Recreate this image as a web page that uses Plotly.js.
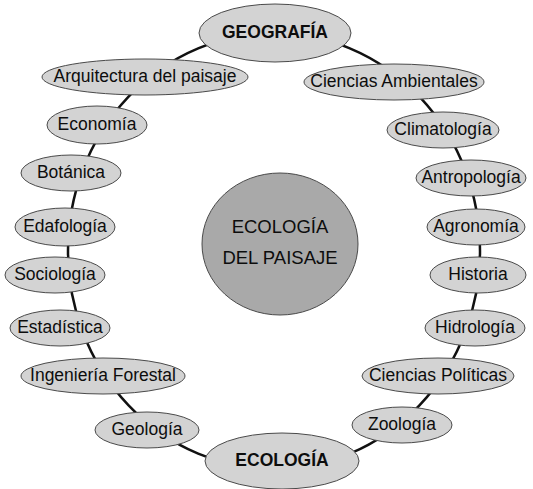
<!DOCTYPE html>
<html>
<head>
<meta charset="utf-8">
<script src="https://cdn.plot.ly/plotly-3.0.1.min.js"></script>
<style>html,body{margin:0;padding:0;background:#fff;}#chart{width:533px;height:489px;}</style>
</head>
<body>
<div id="chart"></div>
<script>
// Node labels (ring of disciplines)
const labels = ["<b>GEOGRAFÍA</b>","Arquitectura del paisaje","Ciencias Ambientales","Economía","Climatología",
  "Botánica","Antropología","Edafología","Agronomía","Sociología","Historia","Estadística","Hidrología",
  "Ingeniería Forestal","Ciencias Políticas","Geología","Zoología","<b>ECOLOGÍA</b>"];
// Node centres (diagram coordinates)
const nodeX = [275,145,394,97,443,71,471,65,476,55,478,60,475,103,438,147,402,282];
const nodeY = [33,77,82,125,130,173,178,227,227,275,275,328,328,376,376,430,425,461];
// Node half-widths / half-heights
const nodeRx = [76,103,90,50,56,50,55,50,49,50,48,50,50,82,76,52,50,77];
const nodeRy = [29,18,18,19,18,18,18,19,18,18,18,18,18,18,18,18,18,28];
// Centre node
const centreLines = ["ECOLOGÍA","DEL PAISAJE"];
const centreX = [280], centreY = [244], centreRx = [78], centreRy = [71];
const centreLineGap = 31;
// Connecting ring
const ringX = [274], ringY = [251], ringRx = [206], ringRy = [218];

const shapes = [];
shapes.push({type:'circle', xref:'x', yref:'y',
  x0: ringX[0]-ringRx[0], x1: ringX[0]+ringRx[0], y0: ringY[0]-ringRy[0], y1: ringY[0]+ringRy[0],
  line:{color:'#111', width:2.5}, fillcolor:'rgba(0,0,0,0)', layer:'below'});
for (let i = 0; i < labels.length; i++) {
  shapes.push({type:'circle', xref:'x', yref:'y',
    x0: nodeX[i]-nodeRx[i], x1: nodeX[i]+nodeRx[i], y0: nodeY[i]-nodeRy[i], y1: nodeY[i]+nodeRy[i],
    line:{color:'#4a4a4a', width:1}, fillcolor:'#d3d3d3', layer:'below'});
}
shapes.push({type:'circle', xref:'x', yref:'y',
  x0: centreX[0]-centreRx[0], x1: centreX[0]+centreRx[0], y0: centreY[0]-centreRy[0], y1: centreY[0]+centreRy[0],
  line:{color:'#4a4a4a', width:1}, fillcolor:'#a9a9a9', layer:'below'});

const font = 'Liberation Sans, Arial, sans-serif';
const traces = [
  {type:'scatter', mode:'text', x: nodeX, y: nodeY.map(v=>v+1), text: labels,
   textposition:'middle center', hoverinfo:'skip', cliponaxis:false,
   textfont:{family:font, size:17.5, color:'#0d0d0d'}},
  {type:'scatter', mode:'text', x: centreLines.map(()=>centreX[0]),
   y: centreLines.map((_,i)=>centreY[0] + (i - (centreLines.length-1)/2)*centreLineGap),
   text: centreLines, textposition:'middle center', hoverinfo:'skip', cliponaxis:false,
   textfont:{family:font, size:18.5, color:'#0d0d0d'}}
];

const layout = {
  width:533, height:489, margin:{l:0,r:0,t:0,b:0},
  paper_bgcolor:'#ffffff', plot_bgcolor:'#ffffff', showlegend:false,
  xaxis:{range:[0,533], visible:false, fixedrange:true},
  yaxis:{range:[489,0], visible:false, fixedrange:true},
  shapes: shapes
};
Plotly.newPlot('chart', traces, layout, {displayModeBar:false, staticPlot:true});
</script>
</body>
</html>
